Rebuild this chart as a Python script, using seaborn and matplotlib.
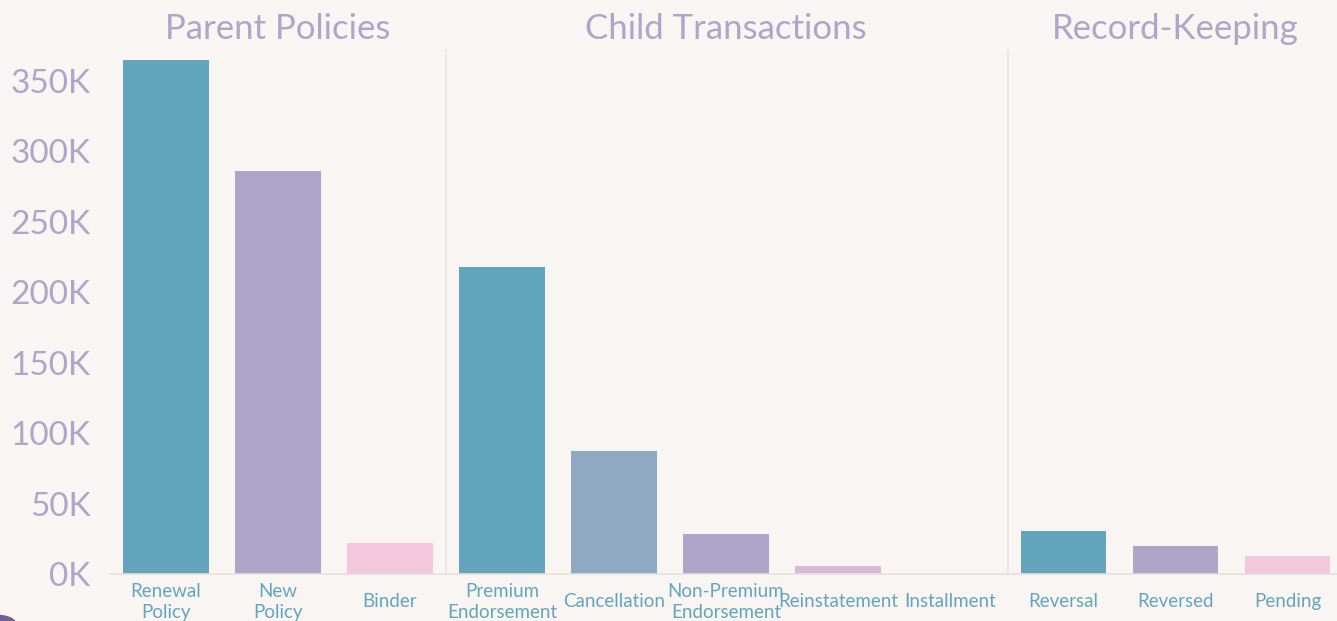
import matplotlib.pyplot as plt
import matplotlib.patches as mpatches
import pandas as pd
import seaborn as sns

W, H = 1337, 621

panel_titles = ["Parent Policies", "Child Transactions", "Record-Keeping"]

parent_labels = ["Renewal\nPolicy", "New\nPolicy", "Binder"]
parent_values = [365000, 286000, 22000]

child_labels = ["Premium\nEndorsement", "Cancellation", "Non-Premium\nEndorsement",
                "Reinstatement", "Installment"]
child_values = [218000, 87000, 28500, 5700, 300]

record_labels = ["Reversal", "Reversed", "Pending"]
record_values = [30500, 20000, 12800]

y_ticks = [0, 50000, 100000, 150000, 200000, 250000, 300000, 350000]

teal = "#64A5BE"
lav = "#ADA6C9"
pink = "#F3C8DD"
panels = [
    (parent_labels, parent_values, [teal, lav, pink], (110, 446)),
    (child_labels, child_values, [teal, "#8FA9C3", lav, "#D9B8D6", "#EAC6DA"], (446, 1006)),
    (record_labels, record_values, [teal, lav, pink], (1007.5, 1343.5)),
]

bg = "#F9F5F2"
sns.set_theme(style="white")
plt.rcParams["font.family"] = ["Lato", "DejaVu Sans"]

fig = plt.figure(figsize=(W / 100, H / 100), dpi=100, facecolor=bg)

y0, y1 = 574, 50
for i, (labels, values, colors, (x0, x1)) in enumerate(panels):
    ax = fig.add_axes([x0 / W, (H - y0) / H, (x1 - x0) / W, (y0 - y1) / H])
    ax.set_facecolor(bg)
    df = pd.DataFrame({"cat": labels, "val": values})
    sns.barplot(data=df, x="cat", y="val", hue="cat", palette=colors, legend=False,
                width=0.76, saturation=1, linewidth=0, ax=ax)
    ax.set_ylim(0, 372000)
    ax.set_xlim(-0.5, len(labels) - 0.5)
    ax.set_xlabel("")
    ax.set_ylabel("")
    ax.set_title(panel_titles[i], color=lav, fontsize=25, pad=8)
    for side in ["top", "right"]:
        ax.spines[side].set_visible(False)
    ax.spines["bottom"].set_color("#E6E0DD")
    ax.spines["bottom"].set_linewidth(1.2)
    if i == 0:
        ax.spines["left"].set_visible(False)
        ax.set_yticks(y_ticks)
        ax.set_yticklabels([f"{int(t / 1000)}K" for t in y_ticks], color=lav, fontsize=24)
        ax.tick_params(axis="y", length=0, pad=14)
    else:
        ax.spines["left"].set_color("#E8E3E0")
        ax.spines["left"].set_linewidth(1.2)
        ax.set_yticks([])
    ax.tick_params(axis="x", length=0, pad=20)
    for lbl in ax.get_xticklabels():
        lbl.set_color(teal)
        lbl.set_fontsize(13.5)
        lbl.set_verticalalignment("center")
        lbl.set_linespacing(1.25)

# small corner decoration
fig.patches.append(mpatches.Circle((-3 / W, -3 / H), 0.014, transform=fig.transFigure,
                                   color="#6E5E9A", zorder=5))

fig.savefig("out.png", dpi=100, facecolor=bg)
